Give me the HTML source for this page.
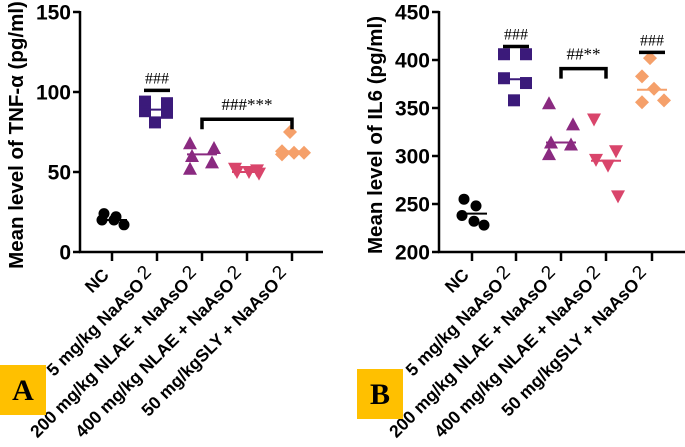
<!DOCTYPE html>
<html><head><meta charset="utf-8"><style>
body{margin:0;background:#fff}
svg{display:block;font-family:"Liberation Sans",Arial,sans-serif}
</style></head><body>
<svg id="c" width="685" height="447" viewBox="0 0 685 447" xmlns="http://www.w3.org/2000/svg"></svg>
<script>
const categories = ["NC","5 mg/kg NaAsO","200 mg/kg NLAE + NaAsO","400 mg/kg NLAE + NaAsO","50 mg/kgSLY + NaAsO"];
const tnfValues = [[24,22,20,20,17],[94,93,88,87,81],[68,65,60,56,52],[52,51,50,50,49],[75,63,62,62,61]];
const tnfMeans = [20,89,61,50,63];
const tnfTicks = [0,50,100,150];
const il6Values = [[255,248,238,232,228],[406,406,381,376,358],[355,333,314,312,302],[338,305,296,290,258],[402,383,370,358,356]];
const il6Means = [240,380,314,295,369];
const il6Ticks = [200,250,300,350,400,450];
const colors = ["#000000","#3b1a7a","#8a2a80","#d9456b","#f5a06a"];
const shapes = ["circle","square","triangle","tridown","diamond"];
const jitter = [[-8,4,-10,2,12],[-12,10,-12,10,-2],[-12,12,-10,10,-12],[-12,10,-10,2,12],[-2,-10,2,12,-10]];
const NS = "http://www.w3.org/2000/svg";
const svg = document.getElementById('c');
function el(tag, attrs, parent){const e=document.createElementNS(NS,tag);for(const k in attrs)e.setAttribute(k,attrs[k]);(parent||svg).appendChild(e);return e;}

function panel(p){
  const g = el('g',{});
  
  
  const y = v => p.y0 - (v - p.vmin)/(p.vmax-p.vmin)*(p.y0-p.y1);
  const x = i => p.cx[i];
  el('line',{x1:p.ax,y1:p.y1-1,x2:p.ax,y2:p.y0+1,stroke:'#000','stroke-width':2.5},g);
  el('line',{x1:p.ax-1,y1:p.y0,x2:p.xEnd,y2:p.y0,stroke:'#000','stroke-width':2.5},g);
  p.ticks.forEach(t=>{
    el('line',{x1:p.ax-7,y1:y(t),x2:p.ax,y2:y(t),stroke:'#000','stroke-width':2.5},g);
    const tx = el('text',{x:p.ax-9,y:y(t)+7.5,'text-anchor':'end','font-size':21,'font-weight':'bold'},g);
    tx.textContent = t;
    
    
  });
  const yt = el('text',{x:0,y:0,transform:`translate(${p.ax-57},${(p.y0+p.y1)/2+3}) rotate(-90)`,'text-anchor':'middle','font-size':20.5,'font-weight':'bold'},g);
  yt.textContent = p.title;
  
  
  categories.forEach((c,i)=>{
    el('line',{x1:x(i),y1:p.y0,x2:x(i),y2:p.y0+9,stroke:'#000','stroke-width':2.5},g);
    const lx = x(i)-2, ly = p.y0+24;
    const t = el('text',{x:lx,y:ly,transform:`rotate(-45 ${lx} ${ly})`,'text-anchor':'end','font-size':17.5,'font-weight':'bold'},g);
    t.textContent = c;
    if(i>0){const s=el('tspan',{'font-weight':'normal','font-size':19,dy:-4,dx:3},t);s.textContent='2';}
    
    
  });
  p.values.forEach((arr,i)=>{
    arr.forEach((v,j)=>{
      const px = x(i)+jitter[i][j], py = y(v), col = colors[i]; let m;
      if(shapes[i]=='circle') m=el('circle',{cx:px,cy:py,r:5.5,fill:col},g);
      else if(shapes[i]=='square') m=el('rect',{x:px-6,y:py-6,width:12,height:12,fill:col},g);
      else if(shapes[i]=='triangle') m=el('polygon',{points:`${px},${py-7} ${px-7},${py+6} ${px+7},${py+6}`,fill:col},g);
      else if(shapes[i]=='tridown') m=el('polygon',{points:`${px},${py+7} ${px-7},${py-6} ${px+7},${py-6}`,fill:col},g);
      else m=el('polygon',{points:`${px},${py-7} ${px+7},${py} ${px},${py+7} ${px-7},${py}`,fill:col},g);
      
      
    });
    const ml = el('line',{x1:x(i)-15,y1:y(p.means[i]),x2:x(i)+15,y2:y(p.means[i]),stroke:colors[i],'stroke-width':2},g);
    
    
  });
  p.annots.forEach(a=>{
    if(a.type=='bar'){
      el('line',{x1:x(a.i)-13,y1:y(a.v),x2:x(a.i)+13,y2:y(a.v),stroke:'#000','stroke-width':3.5},g);
      const t=el('text',{x:x(a.i),y:y(a.v)-7,'text-anchor':'middle','font-size':16,'font-family':'Liberation Serif'},g);
      t.textContent=a.text;
      
      
    } else {
      el('polyline',{points:`${x(a.i)},${y(a.v)+10} ${x(a.i)},${y(a.v)} ${x(a.j)},${y(a.v)} ${x(a.j)},${y(a.v)+10}`,fill:'none',stroke:'#000','stroke-width':3.5},g);
      const t=el('text',{x:(x(a.i)+x(a.j))/2,y:y(a.v)-9,'text-anchor':'middle','font-size':17,'font-family':'Liberation Serif'},g);
      t.textContent=a.text;
      
      
    }
  });
}
panel({name:'tnf-alpha-chart',ax:80,y0:252,y1:12,vmin:0,vmax:150,xEnd:323,cx:[112,157,202,247,292],ticks:tnfTicks,values:tnfValues,means:tnfMeans,title:'Mean level of TNF-α (pg/ml)',
  annots:[{type:'bar',i:1,v:101,text:'###'},{type:'bracket',i:2,j:4,v:83,text:'###***'}]});
panel({name:'il6-chart',ax:439,y0:252,y1:12,vmin:200,vmax:450,xEnd:685,cx:[472,516,561,606,652],ticks:il6Ticks,values:il6Values,means:il6Means,title:'Mean level of IL6 (pg/ml)',
  annots:[{type:'bar',i:1,v:414,text:'###'},{type:'bracket',i:2,j:3,v:391,text:'##**'},{type:'bar',i:4,v:408,text:'###'}]});
[['A',0,365],['B',357,369]].forEach(b=>{
  const r=el('rect',{x:b[1],y:b[2],width:46,height:50,fill:'#FFC000'});
  
  
  const t=el('text',{x:b[1]+23,y:b[2]+35,'text-anchor':'middle','font-size':30,'font-weight':'bold','font-family':'Liberation Serif'});
  t.textContent=b[0];
  
  
});
</script>
</body></html>
